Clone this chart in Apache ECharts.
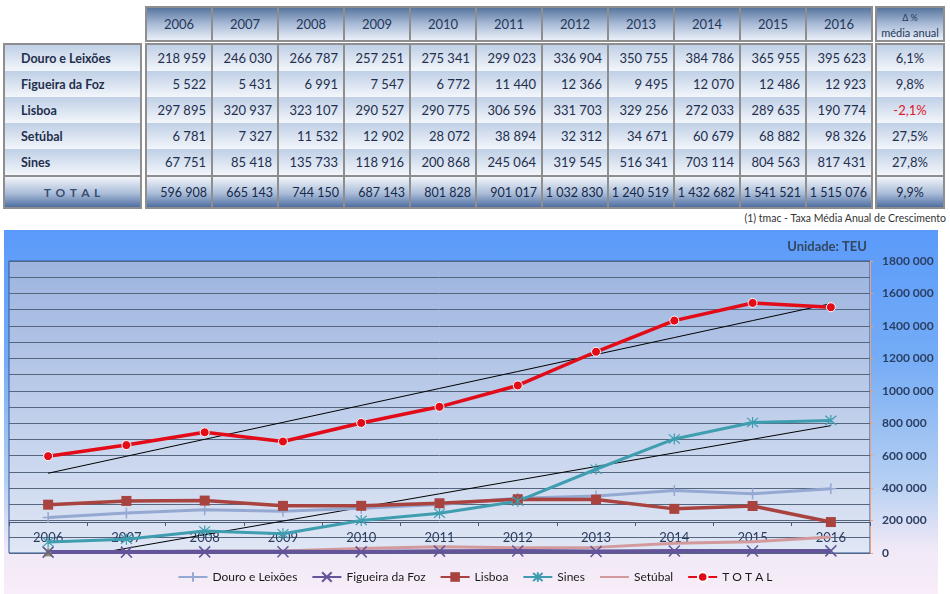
<!DOCTYPE html>
<html><head><meta charset="utf-8">
<script src="https://cdn.jsdelivr.net/npm/echarts@6/dist/echarts.min.js"></script>
<style>
body{margin:0;width:950px;height:594px;position:relative;overflow:hidden;background:#fff;font-family:Lato,'Noto Sans',sans-serif;}
.box{position:absolute;background:#8e8e8e;}
.c{position:absolute;box-sizing:border-box;color:#1f2f4d;font-size:13px;display:flex;align-items:center;white-space:nowrap;}
.hd{background:linear-gradient(#58769f,#a9bbd7 50%,#e9eff8);justify-content:center;color:#25385a;}
.rw{background:linear-gradient(#bfcfe6,#f3f6fb);justify-content:flex-end;padding-right:5px;}
.lb{background:linear-gradient(#bfcfe6,#f3f6fb);justify-content:flex-start;padding-left:16px;font-weight:bold;font-size:12.5px;}
.tt{background:linear-gradient(#f2f5fa,#a9bcd8 55%,#4f6fa2);justify-content:flex-end;padding-right:4px;color:#17284a;font-size:12.5px;}
.ctr{justify-content:center;padding:0;}
#bg{position:absolute;left:4px;top:230px;width:934px;height:364px;background:linear-gradient(to bottom,#5a9afa 0%,#74acf6 35%,#b7d0f2 70%,#f1e9f7 88%,#f8edf8 100%);}
#chart{position:absolute;left:0;top:228px;width:950px;height:366px;}
#note{position:absolute;right:4px;top:212px;font-size:10.5px;color:#333;}
</style></head>
<body>
<div id="bg"></div>
<div id="tbl"></div>
<div id="note">(1) tmac - Taxa Média Anual de Crescimento</div>
<div id="chart"></div>
<script>
const years = ['2006','2007','2008','2009','2010','2011','2012','2013','2014','2015','2016'];
const douro    = [218959, 246030, 266787, 257251, 275341, 299023, 336904, 350755, 384786, 365955, 395623];
const figueira = [5522, 5431, 6991, 7547, 6772, 11440, 12366, 9495, 12070, 12486, 12923];
const lisboa   = [297895, 320937, 323107, 290527, 290775, 306596, 331703, 329256, 272033, 289635, 190774];
const setubal  = [6781, 7327, 11532, 12902, 28072, 38894, 32312, 34671, 60679, 68882, 98326];
const sines    = [67751, 85418, 135733, 118916, 200868, 245064, 319545, 516341, 703114, 804563, 817431];
const total    = [596908, 665143, 744150, 687143, 801828, 901017, 1032830, 1240519, 1432682, 1541521, 1515076];
const tmac     = ['6,1%', '9,8%', '-2,1%', '27,5%', '27,8%', '9,9%'];
const rowNames = ['Douro e Leixões','Figueira da Foz','Lisboa','Setúbal','Sines'];
const totalLabel = 'T O T A L';
const tmacHead = ['Δ %','média anual'];
const yTicks = [0,200000,400000,600000,800000,1000000,1200000,1400000,1600000,1800000];

const rowVals = [douro, figueira, lisboa, setubal, sines];
function fmt(n){return String(n).replace(/\B(?=(\d{3})+(?!\d))/g,' ');}
function fmtAxis(v){ if(v<1000) return String(v); return Math.floor(v/1000)+' '+String(v%1000).padStart(3,'0'); }

// ---- table ----
const T = document.getElementById('tbl');
function el(cls, l, t, w, h, html, style){
  const d=document.createElement('div'); d.className=cls;
  d.style.left=l+'px'; d.style.top=t+'px'; d.style.width=w+'px'; d.style.height=h+'px';
  if(html!==undefined) d.innerHTML=html; if(style) Object.assign(d.style, style);
  T.appendChild(d); return d;
}
const X0=145, CW=66, N=years.length;
el('box', X0, 6, N*CW+2, 36);
years.forEach((y,c)=>el('c hd', X0+2+c*CW, 8, CW-2, 32, y));
el('box', 875, 6, 70, 36);
el('c hd', 877, 8, 66, 32, '<div style="text-align:center;line-height:14px"><span style="font-size:9px">'+tmacHead[0]+'</span><br><span style="font-size:11px">'+tmacHead[1]+'</span></div>');
el('box', X0, 43, N*CW+2, 166);
el('box', 3, 43, 139, 166);
el('box', 875, 43, 70, 166);
const RT=45, RH=26;
rowNames.forEach((nm,i)=>{
  const top=RT+i*RH;
  el('c lb', 5, top, 135, RH, nm);
  rowVals[i].forEach((v,c)=>el('c rw', X0+2+c*CW, top, CW-2, RH, fmt(v)));
  el('c rw ctr', 877, top, 66, RH, tmac[i], tmac[i].startsWith('-')?{color:'#e0182a'}:null);
});
el('c tt ctr', 5, 177, 135, 30, totalLabel, {letterSpacing:'1px', color:'#3a4e70', fontWeight:'bold', fontSize:'12px'});
total.forEach((v,c)=>el('c tt', X0+2+c*CW, 177, CW-2, 30, fmt(v)));
el('c tt ctr', 877, 177, 66, 30, tmac[5]);

// ---- chart ----
function trend(arr){
  const n=arr.length; let sx=0,sy=0,sxy=0,sxx=0;
  arr.forEach((y,x)=>{sx+=x;sy+=y;sxy+=x*y;sxx+=x*x;});
  const b=(n*sxy-sx*sy)/(n*sxx-sx*sx), a=(sy-b*sx)/n;
  return arr.map((_,x)=>a+b*x);
}
const P = {
  plus:'path://M5,0L5,10M0,5L10,5',
  cross:'path://M0,0L10,10M10,0L0,10',
  star:'path://M0,0L10,10M10,0L0,10M5,-1L5,11',
  blank:'path://M0,0L10,10'
};
function line(name, data, color, width, symbol, size, extra){
  return Object.assign({
    name, type:'line', data, symbol, symbolSize:size, showSymbol:true,
    lineStyle:{color, width}, itemStyle:{color, borderColor:color, borderWidth:1.5},
    emphasis:{disabled:true}, z:3
  }, extra||{});
}
const setData = setubal.map((v,i)=> i===0 ? {value:v, symbol:'triangle', symbolSize:8, itemStyle:{color:'#8d9a4e', borderColor:'#8d9a4e', borderWidth:1}} : v);

const chart = echarts.init(document.getElementById('chart'), null, {renderer:'canvas'});
chart.setOption({
  animation:false,
  textStyle:{fontFamily:'Lato, "Noto Sans", sans-serif'},
  title:{text:'Unidade: TEU', right:78, top:7, textStyle:{fontSize:13, fontWeight:'bold', color:'#33475f'}},
  grid:{left:9, right:80, top:33, bottom:41, show:true, borderColor:'#2f56a0', borderWidth:1,
    backgroundColor:{type:'linear',x:0,y:0,x2:0,y2:1,colorStops:[{offset:0,color:'#9cb4df'},{offset:1,color:'#e0e7f5'}]}},
  legend:{
    data:['Douro e Leixões','Figueira da Foz','Lisboa','Sines','Setúbal','T O T A L'],
    left:'center', top:338, itemWidth:29, itemHeight:12, itemGap:14,
    textStyle:{fontSize:12, color:'#1a1a1a'}
  },
  xAxis:{
    type:'category', data:years, boundaryGap:true, offset:-31,
    axisLine:{lineStyle:{color:'#4c5874', width:1}},
    axisTick:{show:true, length:4, lineStyle:{color:'#4c5874'}},
    axisLabel:{fontSize:13, color:'#2b3d5e', margin:9},
    splitLine:{show:false}
  },
  yAxis:{
    type:'value', position:'right', min:0, max:1800000, interval:200000,
    axisLine:{show:true, lineStyle:{color:'#e9a27a'}},
    axisTick:{show:true, length:3, lineStyle:{color:'#e9a27a'}},
    axisLabel:{fontSize:12, fontWeight:'bold', color:'#2a3f62', margin:12,
      formatter:v=> yTicks.includes(v) ? fmtAxis(v) : ''},
    splitLine:{show:true, lineStyle:{color:'#56667f', width:1}},
    minorTick:{show:false, splitNumber:2},
    minorSplitLine:{show:true, lineStyle:{color:'#56667f', width:1}}
  },
  series:[
    {name:'trendTotal', type:'line', data:trend(total), symbol:'none', lineStyle:{color:'#000', width:1}, silent:true, z:2},
    {name:'trendSines', type:'line', data:trend(sines), symbol:'none', lineStyle:{color:'#000', width:1}, silent:true, z:2},
    line('Douro e Leixões', douro, '#94a8d2', 3, P.plus, 11),
    line('Setúbal', setData, '#d29a9c', 3, P.blank, 6, {itemStyle:{color:'#d29a9c', borderColor:'#d29a9c', borderWidth:0}}),
    line('Figueira da Foz', figueira, '#64549a', 4, P.cross, 11),
    line('Lisboa', lisboa, '#a8433f', 3.5, 'rect', 10, {itemStyle:{color:'#a8433f'}}),
    line('Sines', sines, '#3f9db0', 3, P.star, 11, {itemStyle:{color:'#3f9db0', borderColor:'#3f9db0', borderWidth:1.2}}),
    line('T O T A L', total, '#e20b17', 3.5, 'circle', 9, {itemStyle:{color:'#e20b17', borderColor:'#fff', borderWidth:1}, z:4})
  ]
});
</script>
</body></html>
